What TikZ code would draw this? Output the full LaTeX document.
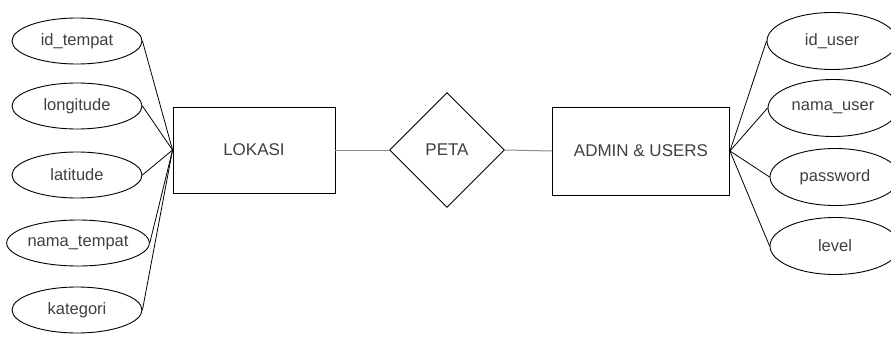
\documentclass[tikz,border=0pt]{standalone}
\usepackage{fontspec}
\setmainfont{Liberation Sans}
\usetikzlibrary{shapes.geometric}
\begin{document}
\begin{tikzpicture}[x=1pt,y=-1pt,
  attr/.style={ellipse,draw,line width=0.9pt,inner sep=0pt,minimum width=130pt,minimum height=46pt,font=\fontsize{16.5}{19}\selectfont,text=black!75},
  rattr/.style={attr,minimum height=57pt},
  entity/.style={rectangle,draw,line width=0.9pt,inner sep=0pt,font=\fontsize{17}{20}\selectfont,text=black!75},
  rel/.style={diamond,draw,line width=0.9pt,inner sep=0pt,minimum width=115pt,minimum height=115pt,font=\fontsize{17}{20}\selectfont,text=black!75},
  link/.style={line width=0.8pt,black},
  glink/.style={line width=1pt,black!45}]
\clip (0,0) rectangle (891,345);
\fill[white] (0,0) rectangle (891,345);
% entities
\node[entity,minimum width=162pt,minimum height=86pt] (lok) at (254,150) {LOKASI};
\node[entity,minimum width=177pt,minimum height=88pt] (adm) at (641,151) {ADMIN \& USERS};
\node[rel] (peta) at (447,150) {PETA};
% left attributes
\node[attr] (a1) at (77,41) {id\_tempat};
\node[attr] (a2) at (77,106) {longitude};
\node[attr] (a3) at (77,175) {latitude};
\node[attr,minimum width=137pt] (a4) at (78,243) {nama\_tempat};
\node[attr] (a5) at (77,310) {kategori};
% right attributes
\node[rattr] (b1) at (832,41) {id\_user};
\node[rattr] (b2) at (833,108) {nama\_user};
\node[rattr] (b3) at (835,177) {password};
\node[rattr] (b4) at (835,246) {level};
% connectors
\foreach \n in {a1,a2,a3,a4,a5} \draw[link] (\n.east) -- (lok.west);
\foreach \n in {b1,b2,b3,b4} \draw[link] (adm.east) -- (\n.west);
\draw[glink] (lok.east) -- (peta.west);
\draw[glink] (peta.east) -- (adm.west);
\end{tikzpicture}
\end{document}
